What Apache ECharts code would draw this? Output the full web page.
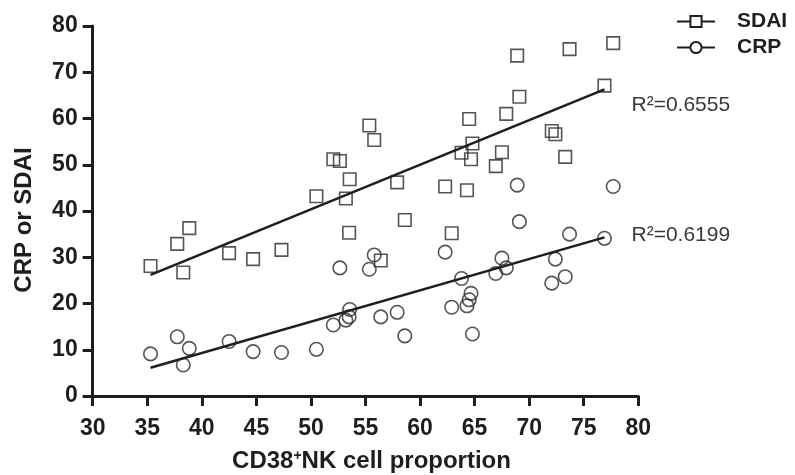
<!DOCTYPE html>
<html><head><meta charset="utf-8">
<script src="https://cdn.jsdelivr.net/npm/echarts@6/dist/echarts.min.js"></script>
<style>html,body{margin:0;padding:0;background:#fff}#c{width:795px;height:475px}</style>
</head><body><div id="c"></div>
<script>
// CD38+NK cell proportion (x) for each patient
var nkProportion = [35.3, 37.75, 38.3, 38.85, 42.5, 44.7, 47.3, 50.5, 52.05, 52.65, 53.2, 53.55, 53.5, 55.35, 55.8, 56.4, 57.9, 58.6, 62.3, 62.9, 63.8, 64.3, 64.5, 64.67, 64.8, 66.94, 67.5, 67.9, 68.9, 69.1, 72.07, 72.4, 73.3, 73.7, 76.9, 77.7];
// SDAI values (squares), paired with nkProportion
var sdaiValues = [28.1, 32.9, 26.7, 36.3, 30.9, 29.6, 31.6, 43.2, 51.2, 50.8, 42.7, 46.85, 35.3, 58.5, 55.35, 29.3, 46.2, 38.05, 45.3, 35.2, 52.6, 44.5, 59.9, 51.2, 54.6, 49.7, 52.7, 61.0, 73.6, 64.7, 57.3, 56.6, 51.7, 75.0, 67.1, 76.3];
// CRP values (circles), paired with nkProportion
var crpValues = [9.1, 12.8, 6.7, 10.3, 11.8, 9.6, 9.4, 10.1, 15.35, 27.7, 16.4, 18.7, 17.1, 27.4, 30.5, 17.1, 18.1, 13.0, 31.1, 19.2, 25.4, 19.5, 20.8, 22.2, 13.4, 26.5, 29.8, 27.7, 45.6, 37.7, 24.4, 29.6, 25.8, 35.0, 34.1, 45.3];
// Regression line end points
var sdaiFitX = [35.3, 76.9], sdaiFitY = [26.2, 66.3];
var crpFitX = [35.3, 76.9], crpFitY = [6.1, 34.3];
var xTicks = {min: 30, max: 80, step: 5};
var yTicks = {min: 0, max: 80, step: 10};
var r2Labels = {SDAI: 'R\u00B2=0.6555', CRP: 'R\u00B2=0.6199'};

function pairs(xs, ys) { return xs.map(function (x, i) { return [x, ys[i]]; }); }

var FONT = 'Liberation Sans, Arial, Helvetica, sans-serif';
var INK = '#1e1e1e';
var chart = echarts.init(document.getElementById('c'), null, {renderer: 'canvas'});
chart.setOption({
  backgroundColor: '#ffffff',
  animation: false,
  textStyle: {fontFamily: FONT},
  grid: {left: 92.7, right: 156.7, top: 26, bottom: 79, containLabel: false, outerBoundsMode: 'none'},
  legend: {
    orient: 'vertical', left: 671, top: 6, itemWidth: 38, itemHeight: 14, itemGap: 5,
    data: ['SDAI', 'CRP'],
    textStyle: {fontFamily: FONT, fontSize: 21, fontWeight: 'bold', color: INK, padding: [0, 0, 0, 17]}
  },
  xAxis: {
    type: 'value', min: xTicks.min, max: xTicks.max, interval: xTicks.step,
    name: '{a|CD38}{s|+}{a|NK cell proportion}', nameLocation: 'middle', nameGap: 53,
    nameTextStyle: {padding: [0, 0, 0, 12], rich: {
      a: {fontFamily: FONT, fontSize: 24, fontWeight: 'bold', color: INK},
      s: {fontFamily: FONT, fontSize: 14, fontWeight: 'bold', color: INK, verticalAlign: 'top', padding: [0, 0, 9, 0]}
    }},
    axisLine: {onZero: false, lineStyle: {color: INK, width: 3}},
    axisTick: {length: 10, lineStyle: {color: INK, width: 3}},
    axisLabel: {fontFamily: FONT, fontSize: 23, fontWeight: 'bold', color: INK, margin: 21},
    splitLine: {show: false}
  },
  yAxis: {
    type: 'value', min: yTicks.min, max: yTicks.max, interval: yTicks.step,
    name: 'CRP or SDAI', nameLocation: 'middle', nameGap: 56,
    nameTextStyle: {fontFamily: FONT, fontSize: 24, fontWeight: 'bold', color: INK, padding: [0, 18, 0, 0]},
    axisLine: {show: true, onZero: false, lineStyle: {color: INK, width: 3}},
    axisTick: {show: true, length: 10, lineStyle: {color: INK, width: 3}},
    axisLabel: {fontFamily: FONT, fontSize: 23, fontWeight: 'bold', color: INK, margin: 15},
    splitLine: {show: false}
  },
  series: [
    {
      name: 'SDAI', type: 'line', data: pairs(sdaiFitX, sdaiFitY),
      symbol: 'rect', symbolSize: 12, showSymbol: false,
      lineStyle: {color: INK, width: 2.5},
      itemStyle: {color: '#ffffff', borderColor: INK, borderWidth: 1.5},
      endLabel: {show: true, formatter: r2Labels.SDAI, fontFamily: FONT, fontSize: 21, color: '#3a3a3a', offset: [19, 16]},
      z: 3
    },
    {
      name: 'CRP', type: 'line', data: pairs(crpFitX, crpFitY),
      symbol: 'circle', symbolSize: 12, showSymbol: false,
      lineStyle: {color: INK, width: 2.5},
      itemStyle: {color: '#ffffff', borderColor: INK, borderWidth: 1.5},
      endLabel: {show: true, formatter: r2Labels.CRP, fontFamily: FONT, fontSize: 21, color: '#3a3a3a', offset: [19, -2]},
      z: 3
    },
    {
      name: 'SDAI pts', type: 'scatter', data: pairs(nkProportion, sdaiValues),
      symbol: 'rect', symbolSize: 12.5,
      itemStyle: {color: 'rgba(0,0,0,0)', borderColor: '#2a2a2a', borderWidth: 1.6}
    },
    {
      name: 'CRP pts', type: 'scatter', data: pairs(nkProportion, crpValues),
      symbol: 'circle', symbolSize: 13.5,
      itemStyle: {color: 'rgba(0,0,0,0)', borderColor: '#2a2a2a', borderWidth: 1.6}
    }
  ]
});
</script></body></html>
